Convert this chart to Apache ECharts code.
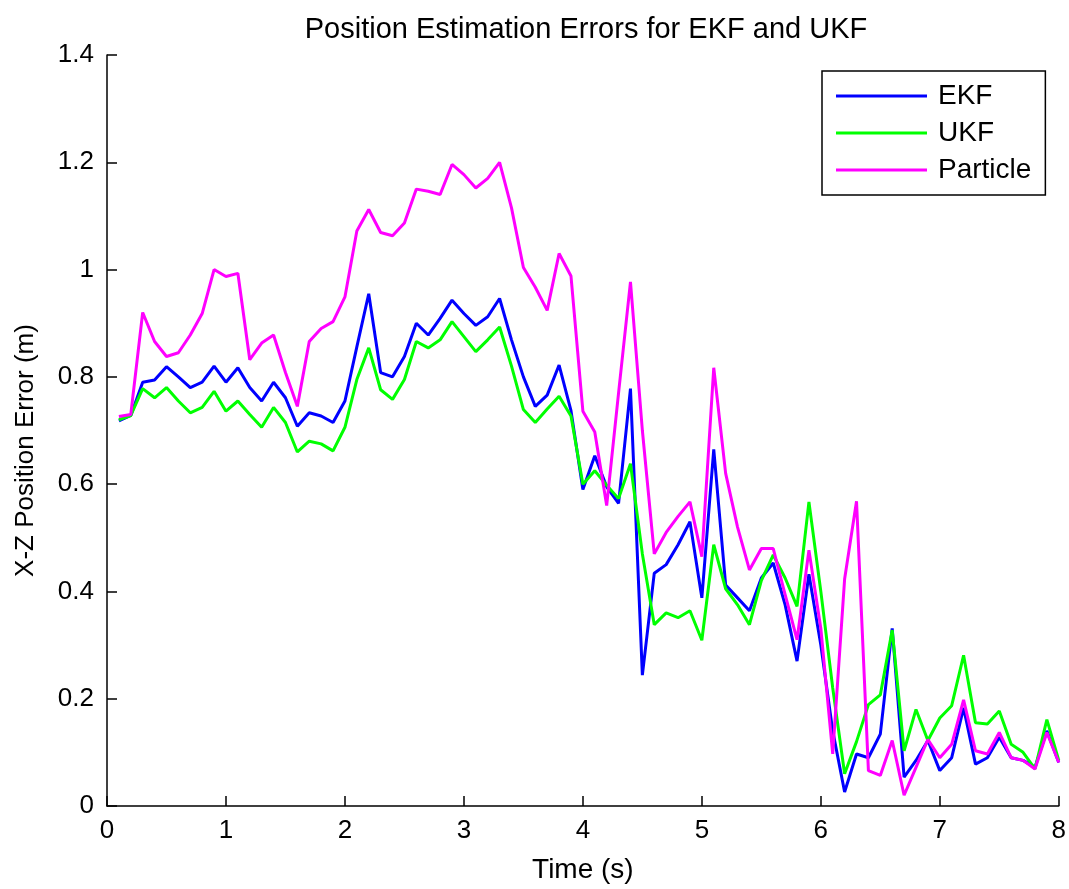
<!DOCTYPE html>
<html>
<head>
<meta charset="utf-8">
<script src="https://cdn.jsdelivr.net/npm/echarts@6/dist/echarts.min.js"></script>
<style>
html,body{margin:0;padding:0;background:#fff;}
#chart{width:1069px;height:889px;}
</style>
</head>
<body>
<div id="chart"></div>
<script>
const times = [0.1,0.2,0.3,0.4,0.5,0.6,0.7,0.8,0.9,1.0,1.1,1.2,1.3,1.4,1.5,1.6,1.7,1.8,1.9,2.0,
  2.1,2.2,2.3,2.4,2.5,2.6,2.7,2.8,2.9,3.0,3.1,3.2,3.3,3.4,3.5,3.6,3.7,3.8,3.9,4.0,
  4.1,4.2,4.3,4.4,4.5,4.6,4.7,4.8,4.9,5.0,5.1,5.2,5.3,5.4,5.5,5.6,5.7,5.8,5.9,6.0,
  6.1,6.2,6.3,6.4,6.5,6.6,6.7,6.8,6.9,7.0,7.1,7.2,7.3,7.4,7.5,7.6,7.7,7.8,7.9,8.0];

const ekf = [0.718,0.728,0.790,0.794,0.819,0.800,0.780,0.790,0.820,0.790,
  0.817,0.780,0.755,0.790,0.761,0.708,0.733,0.727,0.715,0.755,
  0.856,0.955,0.808,0.800,0.838,0.900,0.878,0.909,0.943,0.918,
  0.896,0.912,0.946,0.869,0.800,0.745,0.766,0.822,0.737,0.590,
  0.653,0.595,0.564,0.778,0.244,0.434,0.450,0.487,0.530,0.388,
  0.665,0.412,0.388,0.364,0.425,0.453,0.375,0.270,0.432,0.300,
  0.140,0.026,0.097,0.090,0.134,0.331,0.054,0.085,0.122,0.066,
  0.090,0.183,0.078,0.090,0.128,0.090,0.085,0.072,0.140,0.081];

const ukf = [0.720,0.728,0.778,0.761,0.780,0.755,0.733,0.743,0.773,0.736,
  0.755,0.730,0.706,0.743,0.715,0.660,0.680,0.675,0.662,0.706,
  0.795,0.854,0.776,0.758,0.795,0.866,0.854,0.869,0.903,0.875,
  0.847,0.869,0.893,0.820,0.739,0.715,0.740,0.764,0.727,0.600,
  0.625,0.598,0.573,0.638,0.470,0.338,0.360,0.351,0.364,0.309,
  0.487,0.405,0.375,0.338,0.420,0.468,0.425,0.372,0.567,0.400,
  0.220,0.060,0.120,0.189,0.207,0.328,0.103,0.180,0.122,0.164,
  0.187,0.281,0.155,0.153,0.177,0.115,0.100,0.069,0.161,0.085];

const particle = [0.726,0.730,0.920,0.866,0.838,0.845,0.878,0.918,1.000,0.987,
  0.993,0.832,0.863,0.878,0.808,0.745,0.866,0.890,0.903,0.949,
  1.072,1.112,1.069,1.063,1.087,1.150,1.146,1.140,1.196,1.177,
  1.152,1.170,1.200,1.115,1.004,0.967,0.924,1.030,0.988,0.736,
  0.697,0.560,0.770,0.977,0.700,0.470,0.510,0.540,0.567,0.465,
  0.817,0.620,0.520,0.440,0.480,0.480,0.394,0.310,0.477,0.331,
  0.097,0.423,0.568,0.066,0.057,0.122,0.020,0.072,0.124,0.090,
  0.115,0.198,0.103,0.097,0.137,0.090,0.085,0.069,0.137,0.081];

const seriesNames = ['EKF','UKF','Particle'];
const seriesColors = ['#0000ff','#00ff00','#ff00ff'];
const seriesValues = [ekf, ukf, particle];

const FONT = "'Liberation Sans', Arial, Helvetica, sans-serif";

const chart = echarts.init(document.getElementById('chart'), null, {renderer:'canvas'});
const option = {
  backgroundColor:'#fff',
  animation:false,
  title:{
    text:'Position Estimation Errors for EKF and UKF',
    left:581, top:10, textAlign:'center',
    textStyle:{fontFamily:FONT, fontSize:29, fontWeight:'normal', color:'#000'}
  },
  legend:{
    orient:'vertical',
    left:822, top:71,
    padding:[11,14,11,14],
    itemGap:9,
    itemWidth:91,
    itemHeight:3,
    icon:'rect',
    borderColor:'#000',
    borderWidth:1.5,
    textStyle:{fontFamily:FONT, fontSize:28, color:'#000', padding:[0,0,0,6]},
    data:seriesNames
  },
  grid:{left:107, right:10, top:55, bottom:79},
  xAxis:{
    type:'value', min:0, max:8, interval:1,
    name:'Time (s)', nameLocation:'middle', nameGap:50,
    nameTextStyle:{fontFamily:FONT, fontSize:28, color:'#000'},
    axisLine:{show:true, lineStyle:{color:'#000', width:1.5}},
    axisTick:{show:true, inside:true, length:10, lineStyle:{color:'#000', width:1.5}},
    axisLabel:{fontFamily:FONT, fontSize:26, color:'#000', margin:12},
    splitLine:{show:false}
  },
  yAxis:{
    type:'value', min:0, max:1.4, interval:0.2,
    name:'X-Z Position Error (m)', nameLocation:'middle', nameGap:68,
    nameTextStyle:{fontFamily:FONT, fontSize:26, color:'#000', padding:[0,40,0,0]},
    axisLine:{show:true, lineStyle:{color:'#000', width:1.5}},
    axisTick:{show:true, inside:true, length:10, lineStyle:{color:'#000', width:1.5}},
    axisLabel:{fontFamily:FONT, fontSize:26, color:'#000', margin:13,
      formatter:function(v){return String(Math.round(v*10)/10);}},
    splitLine:{show:false}
  },
  series: seriesNames.map(function(name, i){
    return {
      name:name, type:'line', showSymbol:false, symbol:'none',
      lineStyle:{color:seriesColors[i], width:3},
      itemStyle:{color:seriesColors[i]},
      data: times.map(function(t, j){ return [t, seriesValues[i][j]]; })
    };
  })
};
chart.setOption(option);
</script>
</body>
</html>
